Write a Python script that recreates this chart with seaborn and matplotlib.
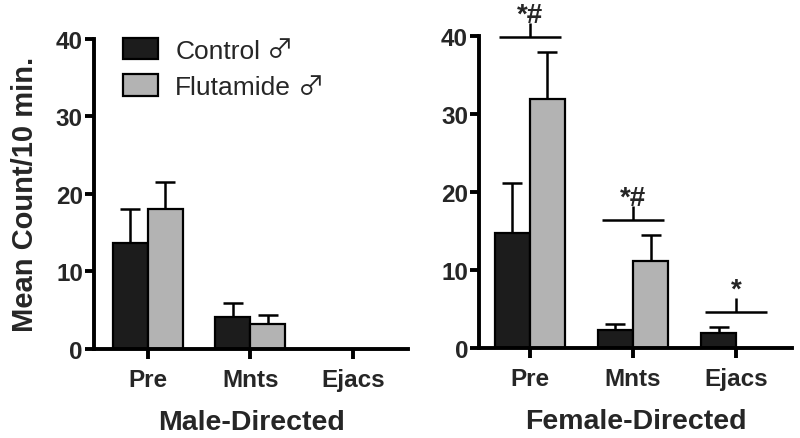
import matplotlib
matplotlib.use('Agg')
import matplotlib.pyplot as plt
from matplotlib.patches import Patch
import seaborn as sns
import pandas as pd

# ---- data ----
categories = ['Pre', 'Mnts', 'Ejacs']
groups = ['Control', 'Flutamide']
group_symbol = '♂'
male_control = [13.7, 4.1, 0.0]
male_control_sem = [4.3, 1.8, 0.0]
male_flut = [18.0, 3.2, 0.0]
male_flut_sem = [3.5, 1.2, 0.0]
female_control = [14.8, 2.3, 2.0]
female_control_sem = [6.3, 0.8, 0.7]
female_flut = [31.9, 11.2, 0.0]
female_flut_sem = [6.0, 3.3, 0.0]
sig_labels = ['*#', '*#', '*']
sig_heights = [39.8, 16.4, 4.6]
panel_titles = ['Male-Directed', 'Female-Directed']
ylabel = 'Mean Count/10 min.'
yticks = [0, 10, 20, 30, 40]

sns.set_style('ticks')
FAM = ['Liberation Sans', 'DejaVu Sans']
SYM_FAM = ['Noto Sans CJK SC', 'DejaVu Sans']
plt.rcParams['font.family'] = FAM
plt.rcParams['font.weight'] = 'bold'

colors = ['#1c1c1c', '#b3b3b3']

fig = plt.figure(figsize=(8, 4.39), dpi=100)
axL = fig.add_axes([0.1175, 0.2027, 0.3925, 0.7073])
axR = fig.add_axes([0.599, 0.2043, 0.391, 0.7121])


def make_df(ctrl, flut):
    return pd.DataFrame({
        'cat': categories * 2,
        'grp': [groups[0]] * 3 + [groups[1]] * 3,
        'val': list(ctrl) + list(flut),
    })


def draw(ax, ctrl, ctrl_sem, flut, flut_sem, title, xlim):
    df = make_df(ctrl, flut)
    sns.barplot(data=df, x='cat', y='val', hue='grp', order=categories,
                hue_order=groups, palette=colors, width=0.68, gap=0,
                edgecolor='black', linewidth=1.6, errorbar=None,
                legend=False, ax=ax, saturation=1)
    for cont, sems in zip(ax.containers, [ctrl_sem, flut_sem]):
        for patch, sem in zip(cont.patches, sems):
            h = patch.get_height()
            if h <= 0:
                patch.set_visible(False)
                continue
            if sem > 0:
                xc = patch.get_x() + patch.get_width() / 2
                ax.errorbar([xc], [h], yerr=[[0], [sem]], fmt='none',
                            ecolor='black', elinewidth=1.8, capsize=7.5,
                            capthick=1.8, zorder=1)
                patch.set_zorder(2)
    ax.set_ylim(0, 40)
    ax.set_xlim(*xlim)
    ax.set_yticks(yticks)
    ax.set_yticklabels([str(t) for t in yticks])
    ax.set_xlabel(title, fontsize=20.5, fontweight='bold', labelpad=13)
    ax.set_ylabel('')
    sns.despine(ax=ax)
    for s in ['left', 'bottom']:
        ax.spines[s].set_linewidth(2.8)
        ax.spines[s].set_color('black')
    ax.tick_params(axis='y', length=6.5, width=2.8, pad=1.5, labelsize=17.5,
                   color='black')
    ax.tick_params(axis='x', length=7.5, width=2.8, pad=6, labelsize=17.5,
                   color='black')
    for lab in ax.get_xticklabels() + ax.get_yticklabels():
        lab.set_fontweight('bold')


draw(axL, male_control, male_control_sem, male_flut, male_flut_sem,
     panel_titles[0], (-0.52, 2.53))
draw(axR, female_control, female_control_sem, female_flut, female_flut_sem,
     panel_titles[1], (-0.49, 2.54))

axL.set_ylabel(ylabel, fontsize=21, fontweight='bold', labelpad=12)

# significance markers on female panel
for i, (lab, h) in enumerate(zip(sig_labels, sig_heights)):
    axR.plot([i - 0.3, i + 0.3], [h, h], color='black', lw=1.8,
             clip_on=False, solid_capstyle='butt')
    axR.plot([i, i], [h, h + 1.8], color='black', lw=1.8, clip_on=False,
             solid_capstyle='butt')
    axR.text(i, h + 2.0, lab, ha='center', va='baseline', fontsize=20,
             fontweight='bold', clip_on=False)

LFS = 19
handles = [Patch(facecolor=c, edgecolor='black', linewidth=1.6) for c in colors]
leg = axL.legend(handles=handles, labels=groups, loc='upper left',
                 bbox_to_anchor=(0.05, 1.045), frameon=False, borderpad=0,
                 handlelength=1.33, handleheight=0.87, handletextpad=0.65,
                 labelspacing=0.45, prop={'family': FAM, 'weight': 'normal',
                                          'size': LFS})

# male symbol after each legend label (larger glyph)
fig.canvas.draw()
W, H = fig.bbox.width, fig.bbox.height
for t in leg.get_texts():
    bb = t.get_window_extent()
    fig.text((bb.x1 + 7) / W, (bb.y0 + bb.y1) / 2 / H + 0.002, group_symbol,
             family=SYM_FAM, fontsize=LFS, fontweight='normal',
             ha='left', va='center')

fig.savefig('out.png', dpi=100)
